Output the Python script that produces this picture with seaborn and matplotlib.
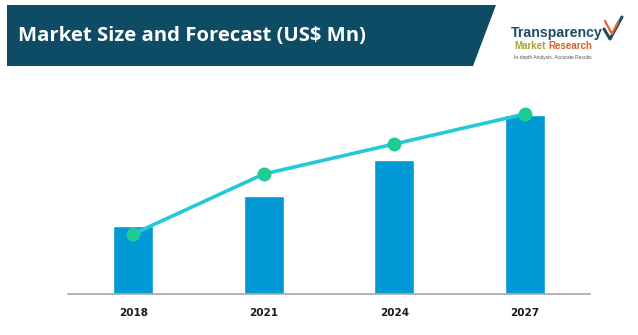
import matplotlib
matplotlib.use("Agg")
import matplotlib.pyplot as plt
from matplotlib.patches import Polygon
import seaborn as sns
import pandas as pd

years = ["2018", "2021", "2024", "2027"]
market_size = [68, 98, 134, 179]
trend_values = [60, 120, 150, 180]

title_text = "Market Size and Forecast (US$ Mn)"

sns.set_theme(style="white")
plt.rcParams["font.family"] = ["DejaVu Sans"]

W, H = 638, 335
fig = plt.figure(figsize=(W / 100, H / 100), dpi=100)
fig.patch.set_facecolor("white")

def fx(x):
    return x / W

def fy(y):
    return 1 - y / H

# Header banner
banner = Polygon([(fx(7), fy(5)), (fx(496), fy(5)), (fx(473), fy(66)), (fx(7), fy(66))],
                 closed=True, transform=fig.transFigure, facecolor="#0e4b64",
                 edgecolor="none", zorder=0)
fig.patches.append(banner)
fig.text(fx(18), fy(36), title_text, color="white", fontsize=14.6,
         fontweight="bold", family=["Open Sans", "DejaVu Sans"], va="center", ha="left")

# Logo
fig.text(fx(511), fy(33), "Transparency", color="#1d4d63", fontsize=10.2,
         fontweight="bold", family=["Liberation Sans", "DejaVu Sans"], va="center", ha="left")
fig.text(fx(514), fy(46), "Market", color="#a9a23a", fontsize=7,
         fontweight="bold", family=["Liberation Sans", "DejaVu Sans"], va="center", ha="left")
fig.text(fx(592), fy(46), "Research", color="#d4622b", fontsize=7,
         fontweight="bold", family=["Liberation Sans", "DejaVu Sans"], va="center", ha="right")
fig.text(fx(514), fy(57), "In-depth Analysis. Accurate Results", color="#555555", fontsize=3.5,
         family=["Liberation Sans", "DejaVu Sans"], va="center", ha="left")
# checkmark
fig.lines.append(plt.Line2D([fx(604), fx(610), fx(622)], [fy(29), fy(39), fy(17)],
                            transform=fig.transFigure, color="#1d4d63", lw=2.2))
fig.lines.append(plt.Line2D([fx(605), fx(612), fx(618)], [fy(21), fy(34), fy(22)],
                            transform=fig.transFigure, color="#e0662a", lw=1.6))

# Chart
ax = fig.add_axes([fx(68), 1 - 294 / H, (590 - 68) / W, (294 - 100) / H])
df = pd.DataFrame({"year": years, "size": market_size, "trend": trend_values})
sns.barplot(data=df, x="year", y="size", color="#0099d6", saturation=1, width=0.31, ax=ax, zorder=2)
sns.pointplot(data=df, x="year", y="trend", color="#22c9d6", markers="", linewidth=2.6, ax=ax)
sns.pointplot(data=df, x="year", y="trend", color="#20cc96", markers="o", markersize=8,
              linestyles="none", ax=ax)
for c in ax.collections:
    c.set_zorder(5)
for l in ax.lines:
    l.set_zorder(4)

ax.set_xlim(-0.5, 3.5)
ax.set_ylim(0, 194)
ax.set_xlabel("")
ax.set_ylabel("")
ax.set_yticks([])
for s in ["top", "right", "left"]:
    ax.spines[s].set_visible(False)
ax.spines["bottom"].set_color("#a6a6a6")
ax.spines["bottom"].set_linewidth(1.2)
ax.tick_params(axis="x", length=0, pad=10, labelsize=7.5, labelcolor="#1a1a1a")
for t in ax.get_xticklabels():
    t.set_fontweight("bold")
ax.set_facecolor("white")

fig.savefig("out.png", dpi=100, facecolor="white")
